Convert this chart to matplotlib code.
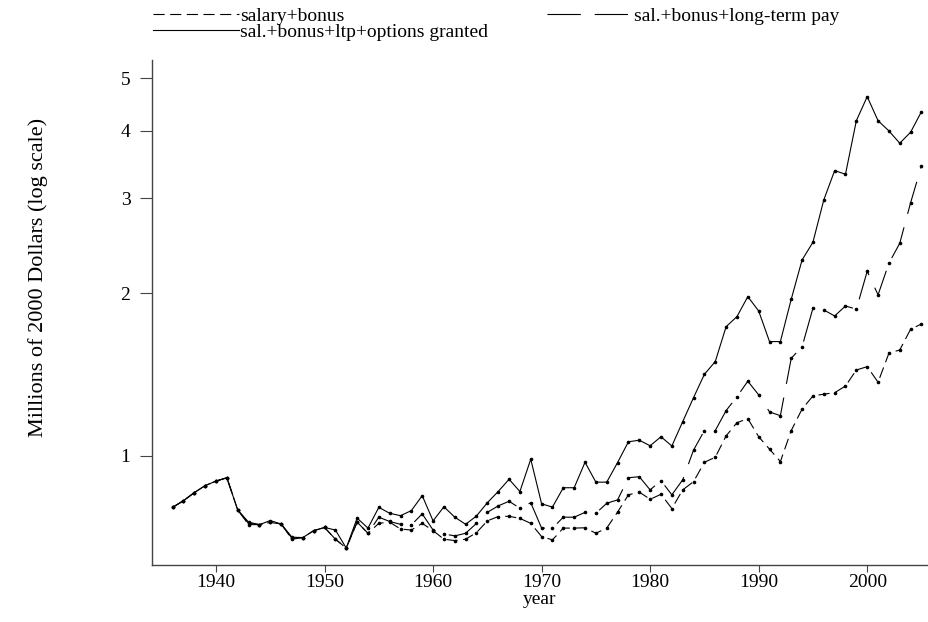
import matplotlib
matplotlib.use('Agg')
import matplotlib.pyplot as plt
from matplotlib.ticker import FixedLocator, NullLocator, FixedFormatter

plt.rcParams['font.family'] = ['Liberation Serif', 'DejaVu Serif']
plt.rcParams['lines.scale_dashes'] = False

years = list(range(1936, 2006))

# salary + bonus
salary = [0.802, 0.825, 0.854, 0.880, 0.897, 0.910, 0.793, 0.745, 0.745, 0.752,
          0.747, 0.700, 0.705, 0.726, 0.736, 0.700, 0.674, 0.753, 0.718, 0.749,
          0.753, 0.731, 0.728, 0.749, 0.726, 0.700, 0.696, 0.700, 0.720, 0.757,
          0.771, 0.772, 0.765, 0.749, 0.708, 0.698, 0.734, 0.734, 0.735, 0.718,
          0.734, 0.786, 0.846, 0.856, 0.830, 0.848, 0.798, 0.864, 0.895, 0.972,
          0.993, 1.088, 1.151, 1.171, 1.084, 1.028, 0.975, 1.113, 1.220, 1.290,
          1.300, 1.308, 1.346, 1.441, 1.462, 1.368, 1.548, 1.570, 1.715, 1.754]

# salary + bonus + long-term pay
ltp = [0.802, 0.825, 0.854, 0.880, 0.897, 0.910, 0.793, 0.749, 0.745, 0.752,
       0.747, 0.703, 0.705, 0.726, 0.736, 0.700, 0.674, 0.753, 0.718, 0.769,
       0.755, 0.746, 0.744, 0.780, 0.728, 0.716, 0.710, 0.718, 0.749, 0.785,
       0.807, 0.823, 0.799, 0.818, 0.734, 0.734, 0.769, 0.769, 0.785, 0.782,
       0.816, 0.828, 0.910, 0.914, 0.864, 0.899, 0.846, 0.902, 1.024, 1.113,
       1.113, 1.212, 1.286, 1.374, 1.296, 1.205, 1.186, 1.515, 1.592, 1.876,
       1.862, 1.815, 1.894, 1.868, 2.196, 1.986, 2.273, 2.475, 2.943, 3.443]

# salary + bonus + ltp + options granted
options = [0.802, 0.825, 0.854, 0.880, 0.897, 0.910, 0.793, 0.753, 0.745, 0.758,
           0.747, 0.706, 0.705, 0.726, 0.736, 0.728, 0.674, 0.766, 0.734, 0.802,
           0.782, 0.774, 0.791, 0.843, 0.757, 0.804, 0.769, 0.746, 0.773, 0.818,
           0.858, 0.904, 0.858, 0.985, 0.814, 0.803, 0.872, 0.872, 0.972, 0.893,
           0.893, 0.971, 1.061, 1.068, 1.043, 1.084, 1.042, 1.156, 1.281, 1.415,
           1.494, 1.734, 1.810, 1.971, 1.854, 1.627, 1.627, 1.949, 2.305, 2.486,
           2.978, 3.375, 3.323, 4.176, 4.627, 4.176, 3.998, 3.793, 3.976, 4.340]

labels = ['salary+bonus', 'sal.+bonus+long-term pay', 'sal.+bonus+ltp+options granted']
y_ticks = [1, 2, 3, 4, 5]
x_ticks = [1940, 1950, 1960, 1970, 1980, 1990, 2000]

fs = 14

fig = plt.figure(figsize=(9.29, 6.22), dpi=100)
ax = fig.add_axes([0.1636, 0.0916, 0.8353, 0.8119])

l1, = ax.plot(years, salary, color='black', lw=0.8, marker='o', ms=1.6,
              dashes=(8, 4), label=labels[0])
l2, = ax.plot(years, ltp, color='black', lw=0.8, marker='o', ms=1.6,
              dashes=(24, 10), label=labels[1])
l3, = ax.plot(years, options, color='black', lw=0.8, marker='o', ms=1.6,
              label=labels[2])

ax.set_yscale('log')
ax.set_ylim(0.627, 5.41)
ax.set_xlim(1934.1, 2005.6)
ax.yaxis.set_major_locator(FixedLocator(y_ticks))
ax.yaxis.set_major_formatter(FixedFormatter([str(t) for t in y_ticks]))
ax.yaxis.set_minor_locator(NullLocator())
ax.set_xticks(x_ticks)

for s in ['top', 'right']:
    ax.spines[s].set_visible(False)
for s in ['left', 'bottom']:
    ax.spines[s].set_color('#444444')
    ax.spines[s].set_linewidth(1.0)
ax.tick_params(axis='y', length=8.5, width=0.8, color='#444444', labelsize=fs, pad=7)
ax.tick_params(axis='x', length=5, width=0.8, color='#444444', labelsize=fs, pad=1.5)

ax.set_xlabel('year', fontsize=fs, labelpad=0)
ax.set_ylabel('Millions of 2000 Dollars (log scale)', fontsize=16)
ax.yaxis.set_label_coords(-0.134, 0.57)

leg = fig.legend(handles=[l1, l3, l2], ncol=2, frameon=False, fontsize=fs,
                 loc='upper left', bbox_to_anchor=(153 / 929, 1 - 7 / 622),
                 handlelength=4.4, handletextpad=0.1, columnspacing=3.0,
                 labelspacing=-0.05, borderaxespad=0, borderpad=0)
for h in leg.legend_handles:
    h.set_marker('')

fig.savefig('out.png', dpi=100)
